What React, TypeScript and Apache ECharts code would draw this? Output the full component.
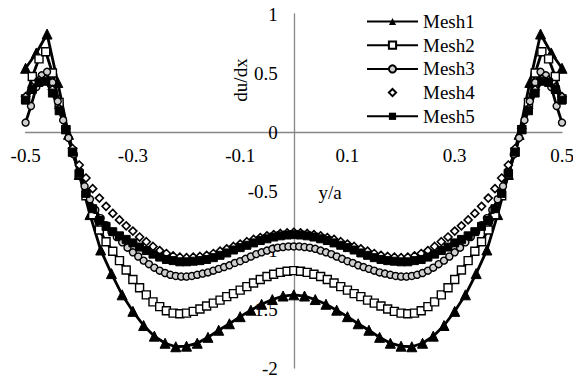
import React, { useEffect, useRef } from "react";
import * as echarts from "echarts";

// Values of du/dx, left (y/a = -0.5) to right (y/a = 0.5)
const mesh1: number[] = [
  0.54, 0.67, 0.83, 0.42, -0.02, -0.36, -0.7, -1.0, -1.2, -1.38, -1.52, -1.64, -1.73, -1.79, -1.82, -1.815, -1.79,
  -1.74, -1.68, -1.625, -1.565, -1.51, -1.46, -1.42, -1.39, -1.38, -1.39, -1.42, -1.46, -1.51, -1.565, -1.625, -1.68,
  -1.74, -1.79, -1.815, -1.82, -1.79, -1.73, -1.64, -1.52, -1.38, -1.2, -1.0, -0.7, -0.36, -0.02, 0.42, 0.83, 0.67, 0.54,
];
const mesh2: number[] = [
  0.28, 0.47, 0.62, 0.68, 0.5, 0.25, 0.02, -0.17, -0.36, -0.54, -0.7, -0.83, -0.93, -1.01, -1.09, -1.17, -1.25, -1.32,
  -1.38, -1.44, -1.48, -1.515, -1.535, -1.54, -1.535, -1.52, -1.5, -1.475, -1.45, -1.425, -1.395, -1.37, -1.34, -1.31,
  -1.28, -1.25, -1.225, -1.205, -1.19, -1.18, -1.175, -1.18, -1.19, -1.205, -1.225, -1.25, -1.28, -1.31, -1.34, -1.37,
  -1.395, -1.425, -1.45, -1.475, -1.5, -1.52, -1.535, -1.54, -1.535, -1.515, -1.48, -1.44, -1.38, -1.32, -1.25, -1.17,
  -1.09, -1.01, -0.93, -0.83, -0.7, -0.54, -0.36, -0.17, 0.02, 0.25, 0.5, 0.68, 0.62, 0.47, 0.28,
];
const mesh3: number[] = [
  0.08, 0.22, 0.38, 0.48, 0.51, 0.42, 0.26, 0.1, -0.05, -0.19, -0.33, -0.46, -0.57, -0.66, -0.73, -0.79, -0.845, -0.89,
  -0.935, -0.98, -1.02, -1.055, -1.09, -1.12, -1.15, -1.175, -1.195, -1.21, -1.22, -1.225, -1.225, -1.22, -1.21, -1.2,
  -1.19, -1.175, -1.16, -1.145, -1.13, -1.11, -1.095, -1.075, -1.055, -1.035, -1.02, -1.005, -0.99, -0.98, -0.975, -0.97,
  -0.97,
  -0.97, -0.975, -0.98, -0.99, -1.005, -1.02, -1.035, -1.055, -1.075, -1.095, -1.11, -1.13, -1.145, -1.16, -1.175,
  -1.19, -1.2, -1.21, -1.22, -1.225, -1.225, -1.22, -1.21, -1.195, -1.175, -1.15, -1.12, -1.09, -1.055, -1.02, -0.98,
  -0.935, -0.89, -0.845, -0.79, -0.73, -0.66, -0.57, -0.46, -0.33, -0.19, -0.05, 0.1, 0.26, 0.42, 0.51, 0.48, 0.38,
  0.22, 0.08,
];
const mesh4: number[] = [
  0.3, 0.38, 0.44, 0.45, 0.36, 0.2, 0.03, -0.14, -0.28, -0.39, -0.48, -0.56, -0.63, -0.69, -0.745, -0.795, -0.84, -0.89,
  -0.93, -0.97, -1.005, -1.03, -1.05, -1.06, -1.065, -1.06, -1.055, -1.045, -1.03, -1.01, -0.99, -0.97, -0.95, -0.93,
  -0.91, -0.895, -0.88, -0.87, -0.86, -0.855, -0.85, -0.855, -0.86, -0.87, -0.88, -0.895, -0.91, -0.93, -0.95, -0.97,
  -0.99, -1.01, -1.03, -1.045, -1.055, -1.06, -1.065, -1.06, -1.05, -1.03, -1.005, -0.97, -0.93, -0.89, -0.84, -0.795,
  -0.745, -0.69, -0.63, -0.56, -0.48, -0.39, -0.28, -0.14, 0.03, 0.2, 0.36, 0.45, 0.44, 0.38, 0.3,
];
const mesh5: number[] = [
  0.27, 0.36, 0.42, 0.43, 0.33, 0.18, 0.02, -0.17, -0.35, -0.52, -0.65, -0.75, -0.8, -0.845, -0.88, -0.91, -0.94,
  -0.975, -1.005, -1.035, -1.06, -1.08, -1.09, -1.1, -1.1, -1.095, -1.09, -1.08, -1.065, -1.045, -1.025, -1.0, -0.98,
  -0.96, -0.94, -0.92, -0.905, -0.89, -0.88, -0.873, -0.87, -0.873, -0.88, -0.89, -0.905, -0.92, -0.94, -0.96, -0.98,
  -1.0, -1.025, -1.045, -1.065, -1.08, -1.09, -1.095, -1.1, -1.1, -1.09, -1.08, -1.06, -1.035, -1.005, -0.975, -0.94,
  -0.91, -0.88, -0.845, -0.8, -0.75, -0.65, -0.52, -0.35, -0.17, 0.02, 0.18, 0.33, 0.43, 0.42, 0.36, 0.27,
];

const seriesNames = ["Mesh1", "Mesh2", "Mesh3", "Mesh4", "Mesh5"];
const xTickLabels = ["-0.5", "-0.3", "-0.1", "0.1", "0.3", "0.5"];
const yTickLabels = ["-2", "-1.5", "-1", "-0.5", "0", "0.5", "1"];
const xAxisTitle = "y/a";
const yAxisTitle = "du/dx";

// Evenly spaced mesh positions along y/a for a series of n values
const meshPositions = (n: number) => {
  const out: number[] = [];
  for (let i = 0; i < n; i++) out.push(Math.round((-0.5 + i / (n - 1)) * 100000) / 100000);
  return out;
};
const toPairs = (vals: number[]) => {
  const xs = meshPositions(vals.length);
  return vals.map((v, i) => [xs[i], v]);
};

const FONT = "Liberation Serif";
const W = 573;
const H = 379;
const GRID = { left: 25.6, right: 11, top: 14, bottom: 11 };
const X_MIN = -0.5;
const X_MAX = 0.5;
const Y_MIN = -2;
const Y_MAX = 1;

export default function App() {
  const ref = useRef<HTMLDivElement>(null);
  useEffect(() => {
    if (!ref.current) return;
    const chart = echarts.init(ref.current, undefined, { renderer: "svg" });
    const fmt = (labels: string[]) => (v: number) => {
      const s = String(Math.round(v * 10) / 10);
      return labels.includes(s) ? s : "";
    };
    // place the axes on the zero lines (axes cross at the origin)
    const plotW = W - GRID.left - GRID.right;
    const plotH = H - GRID.top - GRID.bottom;
    const yAxisOffset = -((0 - X_MIN) / (X_MAX - X_MIN)) * plotW;
    const xAxisOffset = -((0 - Y_MIN) / (Y_MAX - Y_MIN)) * plotH;
    const base = {
      type: "line" as const,
      showSymbol: true,
      showAllSymbol: true,
      smooth: false,
      lineStyle: { color: "#000", width: 2.8 },
    };
    chart.setOption({
      animation: false,
      backgroundColor: "#fff",
      grid: { ...GRID, containLabel: false, outerBoundsMode: "none" },
      legend: {
        orient: "vertical",
        left: 366,
        top: 12,
        padding: 0,
        itemWidth: 51,
        itemHeight: 9,
        itemGap: 4.7,
        selectedMode: false,
        data: seriesNames,
        textStyle: { fontFamily: FONT, fontSize: 19, lineHeight: 19, color: "#000" },
      },
      xAxis: {
        type: "value",
        position: "bottom",
        offset: xAxisOffset,
        min: X_MIN,
        max: X_MAX,
        interval: 0.2,
        axisLine: { onZero: false, lineStyle: { color: "#868686", width: 1.3 } },
        axisTick: { show: false },
        splitLine: { show: false },
        axisLabel: { fontFamily: FONT, fontSize: 19, color: "#000", margin: 14, formatter: fmt(xTickLabels), showMinLabel: true, showMaxLabel: true, hideOverlap: false },
      },
      yAxis: {
        type: "value",
        position: "left",
        offset: yAxisOffset,
        min: Y_MIN,
        max: Y_MAX,
        interval: 0.5,
        axisLine: { show: true, onZero: false, lineStyle: { color: "#868686", width: 1.3 } },
        axisTick: { show: false },
        splitLine: { show: false },
        axisLabel: { fontFamily: FONT, fontSize: 19, color: "#000", margin: 16, formatter: fmt(yTickLabels), showMinLabel: true, showMaxLabel: true, hideOverlap: false },
      },
      graphic: [
        {
          type: "text",
          x: 240,
          y: 80,
          rotation: Math.PI / 2,
          style: { text: yAxisTitle, fontFamily: FONT, fontSize: 19, fill: "#000", align: "center", verticalAlign: "middle" },
        },
        {
          type: "text",
          x: 330,
          y: 192,
          style: { text: xAxisTitle, fontFamily: FONT, fontSize: 19, fill: "#000", align: "center", verticalAlign: "middle" },
        },
      ],
      series: [
        {
          ...base,
          name: "Mesh1",
          data: toPairs(mesh1),
          symbol: "triangle",
          symbolSize: 10,
          itemStyle: { color: "#000", borderColor: "#000" },
        },
        {
          ...base,
          name: "Mesh2",
          data: toPairs(mesh2),
          symbol: "rect",
          symbolSize: 8,
          itemStyle: { color: "#fff", borderColor: "#000", borderWidth: 1.4 },
        },
        {
          ...base,
          name: "Mesh3",
          data: toPairs(mesh3),
          symbol: "circle",
          symbolSize: 7,
          itemStyle: { color: "#cfcfcf", borderColor: "#000", borderWidth: 1.4 },
        },
        {
          ...base,
          name: "Mesh4",
          data: toPairs(mesh4),
          symbol: "diamond",
          symbolSize: 8,
          lineStyle: { color: "#000", width: 0, opacity: 0 },
          itemStyle: { color: "#fff", borderColor: "#000", borderWidth: 1.6 },
        },
        {
          ...base,
          name: "Mesh5",
          data: toPairs(mesh5),
          symbol: "rect",
          symbolSize: 8,
          itemStyle: { color: "#000", borderColor: "#000" },
        },
      ],
    });
    return () => chart.dispose();
  }, []);
  return <div ref={ref} style={{ position: "fixed", left: 0, top: 0, width: W, height: H, background: "#fff" }} />;
}
